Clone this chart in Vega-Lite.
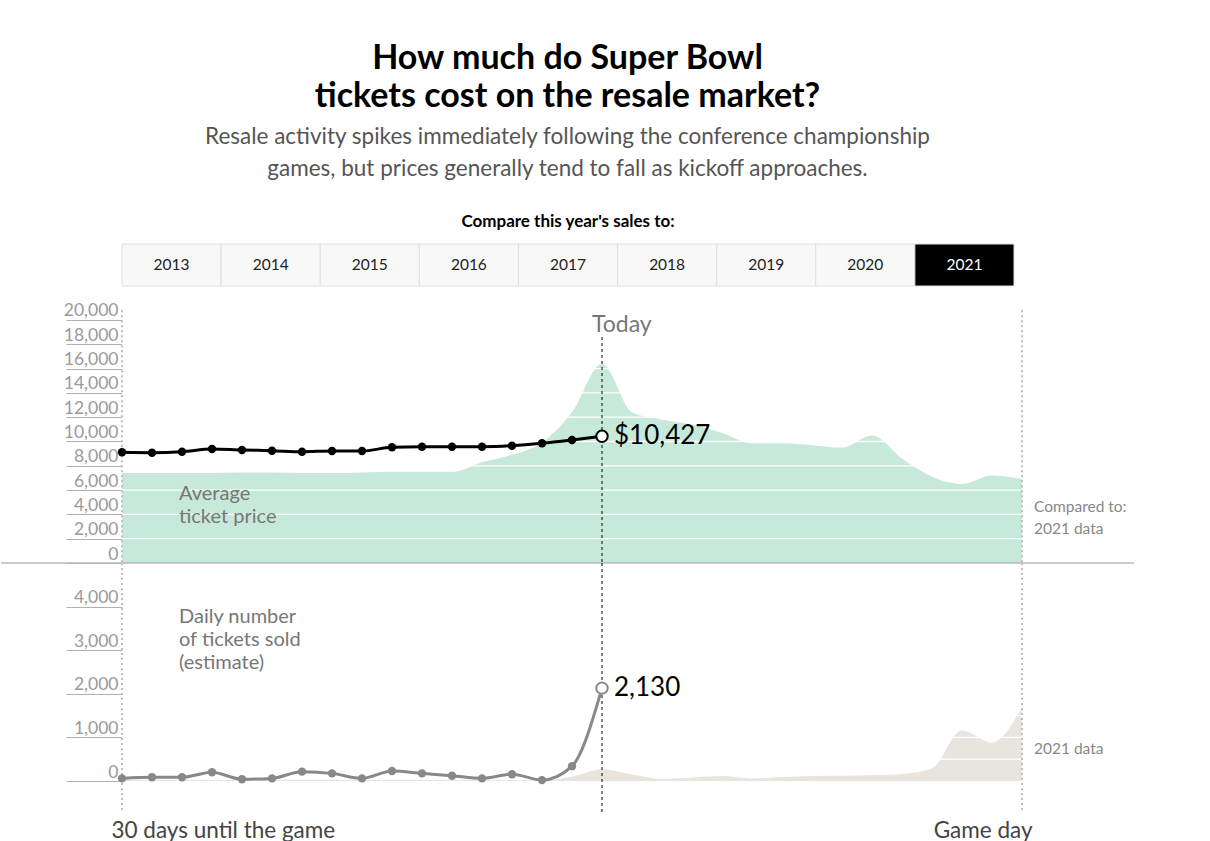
{
  "$schema": "https://vega.github.io/schema/vega-lite/v6.json",
  "padding": {"left": 0, "top": 42, "right": 0, "bottom": 0},
  "background": "white",
  "config": {
    "view": {"stroke": null},
    "font": "Lato",
    "axisY": {
      "domain": false, "grid": false, "ticks": true, "tickSize": 56, "tickColor": "#b0b0b0", "tickWidth": 1,
      "labelPadding": -52, "labelBaseline": "bottom", "labelAlign": "right", "labelOverlap": false,
      "labelFont": "Lato", "labelFontSize": 17.5, "labelColor": "#9a9a9a"
    }
  },
  "bounds": "flush",
  "spacing": 0,
  "title": {
    "text": ["How much do Super Bowl", "tickets cost on the resale market?"],
    "subtitle": ["Resale activity spikes immediately following the conference championship", "games, but prices generally tend to fall as kickoff approaches."],
    "anchor": "middle",
    "frame": "bounds",
    "font": "Lato",
    "fontSize": 34,
    "fontWeight": "bold",
    "color": "#000000",
    "lineHeight": 38,
    "subtitleFont": "Lato",
    "subtitleFontSize": 22.5,
    "subtitleColor": "#555555",
    "subtitleLineHeight": 32,
    "subtitlePadding": 12,
    "offset": 32
  },
  "datasets": {
    "buttons": [
      {"year": "2013"}, {"year": "2014"}, {"year": "2015"}, {"year": "2016"}, {"year": "2017"},
      {"year": "2018"}, {"year": "2019"}, {"year": "2020"}, {"year": "2021"}
    ],
    "current": [
      {"day": 30, "price": 9111, "tickets": 60},
      {"day": 29, "price": 9078, "tickets": 85},
      {"day": 28, "price": 9160, "tickets": 85},
      {"day": 27, "price": 9383, "tickets": 200},
      {"day": 26, "price": 9300, "tickets": 40},
      {"day": 25, "price": 9243, "tickets": 60},
      {"day": 24, "price": 9160, "tickets": 215},
      {"day": 23, "price": 9218, "tickets": 175},
      {"day": 22, "price": 9218, "tickets": 60},
      {"day": 21, "price": 9523, "tickets": 230},
      {"day": 20, "price": 9572, "tickets": 175},
      {"day": 19, "price": 9572, "tickets": 120},
      {"day": 18, "price": 9572, "tickets": 60},
      {"day": 17, "price": 9654, "tickets": 155},
      {"day": 16, "price": 9852, "tickets": 20},
      {"day": 15, "price": 10123, "tickets": 340},
      {"day": 14, "price": 10427, "tickets": 2130}
    ],
    "compare": [
      {"day": 30, "price": 7400, "tickets": 30},
      {"day": 29, "price": 7400, "tickets": 30},
      {"day": 28, "price": 7400, "tickets": 30},
      {"day": 27, "price": 7400, "tickets": 30},
      {"day": 26, "price": 7450, "tickets": 30},
      {"day": 25, "price": 7450, "tickets": 30},
      {"day": 24, "price": 7400, "tickets": 30},
      {"day": 23, "price": 7400, "tickets": 30},
      {"day": 22, "price": 7450, "tickets": 30},
      {"day": 21, "price": 7500, "tickets": 30},
      {"day": 20, "price": 7500, "tickets": 30},
      {"day": 19, "price": 7500, "tickets": 30},
      {"day": 18, "price": 8300, "tickets": 25},
      {"day": 17, "price": 8900, "tickets": 20},
      {"day": 16, "price": 9900, "tickets": 20},
      {"day": 15, "price": 12400, "tickets": 100},
      {"day": 14, "price": 16400, "tickets": 270},
      {"day": 13, "price": 12400, "tickets": 150},
      {"day": 12, "price": 11800, "tickets": 50},
      {"day": 11, "price": 11400, "tickets": 80},
      {"day": 10, "price": 10700, "tickets": 115},
      {"day": 9, "price": 9850, "tickets": 60},
      {"day": 8, "price": 9850, "tickets": 90},
      {"day": 7, "price": 9700, "tickets": 115},
      {"day": 6, "price": 9500, "tickets": 120},
      {"day": 5, "price": 10500, "tickets": 135},
      {"day": 4, "price": 8600, "tickets": 160},
      {"day": 3, "price": 7100, "tickets": 290},
      {"day": 2, "price": 6500, "tickets": 1160},
      {"day": 1, "price": 7200, "tickets": 880},
      {"day": 0, "price": 6900, "tickets": 1700}
    ],
    "priceGrid": [
      {"price": 2000}, {"price": 4000}, {"price": 6000}, {"price": 8000}, {"price": 10000},
      {"price": 12000}, {"price": 14000}, {"price": 16000}, {"price": 18000}, {"price": 20000}
    ],
    "ticketGrid": [
      {"tickets": 500}, {"tickets": 1000}, {"tickets": 1500}, {"tickets": 2000}, {"tickets": 2500},
      {"tickets": 3000}, {"tickets": 3500}, {"tickets": 4000}, {"tickets": 4500}
    ],
    "edges": [{"day": 30}, {"day": 0}],
    "one": [{"k": 1}]
  },
  "vconcat": [
    {
      "width": 892,
      "height": 42,
      "title": {"text": "Compare this year's sales to:", "font": "Lato", "fontSize": 17, "fontWeight": "bold", "color": "#000000", "anchor": "middle", "offset": 13},
      "data": {"name": "buttons"},
      "layer": [
        {
          "mark": {"type": "rect", "stroke": "#e0e0e0", "strokeWidth": 1},
          "encoding": {
            "x": {"field": "year", "type": "nominal", "axis": null, "scale": {"paddingInner": 0, "paddingOuter": 0}},
            "fill": {"condition": {"test": "datum.year == '2021'", "value": "#000000"}, "value": "#f8f8f8"}
          }
        },
        {
          "mark": {"type": "text", "font": "Lato", "fontSize": 15.5},
          "encoding": {
            "x": {"field": "year", "type": "nominal", "axis": null},
            "text": {"field": "year"},
            "color": {"condition": {"test": "datum.year == '2021'", "value": "#ffffff"}, "value": "#222222"}
          }
        }
      ]
    },
    {
      "width": 900,
      "height": 277,
      "layer": [
        {
          "data": {"name": "compare"},
          "mark": {"type": "area", "color": "#c6e9da", "interpolate": "monotone"},
          "encoding": {
            "x": {"field": "day", "type": "quantitative", "scale": {"domain": [0, 30], "reverse": true, "nice": false, "zero": false}, "axis": null},
            "y": {
              "field": "price", "type": "quantitative",
              "scale": {"domain": [0, 22798], "nice": false, "zero": false},
              "axis": {"values": [0, 2000, 4000, 6000, 8000, 10000, 12000, 14000, 16000, 18000, 20000], "format": ",.0f", "title": null}
            }
          }
        },
        {
          "data": {"name": "priceGrid"},
          "mark": {"type": "rule", "color": "#ffffff", "strokeWidth": 1.3},
          "encoding": {"y": {"field": "price", "type": "quantitative", "axis": {"values": [0, 2000, 4000, 6000, 8000, 10000, 12000, 14000, 16000, 18000, 20000], "format": ",.0f", "title": null}}}
        },
        {
          "data": {"name": "edges"},
          "mark": {"type": "rule", "color": "#bdbdbd", "strokeWidth": 2, "strokeDash": [2, 3]},
          "encoding": {"x": {"field": "day", "type": "quantitative"}, "y": {"datum": 20800, "axis": {"values": [0, 2000, 4000, 6000, 8000, 10000, 12000, 14000, 16000, 18000, 20000], "format": ",.0f", "title": null}}, "y2": {"datum": 0}}
        },
        {
          "data": {"name": "one"},
          "mark": {"type": "rule", "color": "#b8b8b8", "strokeWidth": 1.5},
          "encoding": {"x": {"datum": 34.03}, "x2": {"datum": -3.73}, "y": {"datum": 0, "axis": {"values": [0, 2000, 4000, 6000, 8000, 10000, 12000, 14000, 16000, 18000, 20000], "format": ",.0f", "title": null}}}
        },
        {
          "data": {"name": "one"},
          "mark": {"type": "rule", "color": "#000000", "strokeWidth": 1, "strokeDash": [3, 3]},
          "encoding": {"x": {"datum": 14}, "y": {"datum": 18600, "axis": {"values": [0, 2000, 4000, 6000, 8000, 10000, 12000, 14000, 16000, 18000, 20000], "format": ",.0f", "title": null}}, "y2": {"datum": 0}}
        },
        {
          "data": {"name": "one"},
          "mark": {"type": "text", "font": "Lato", "fontSize": 23, "color": "#777777", "align": "left", "baseline": "middle", "dx": -10},
          "encoding": {"x": {"datum": 14}, "y": {"datum": 19590, "axis": {"values": [0, 2000, 4000, 6000, 8000, 10000, 12000, 14000, 16000, 18000, 20000], "format": ",.0f", "title": null}}, "text": {"value": "Today"}}
        },
        {
          "data": {"name": "one"},
          "mark": {"type": "text", "font": "Lato", "fontSize": 20, "color": "#777777", "align": "left", "baseline": "middle", "lineHeight": 23},
          "encoding": {"x": {"datum": 28.1}, "y": {"datum": 5679, "axis": {"values": [0, 2000, 4000, 6000, 8000, 10000, 12000, 14000, 16000, 18000, 20000], "format": ",.0f", "title": null}}, "text": {"value": ["Average", "ticket price"]}}
        },
        {
          "data": {"name": "one"},
          "mark": {"type": "text", "font": "Lato", "fontSize": 15.5, "color": "#888888", "align": "left", "baseline": "middle", "lineHeight": 22},
          "encoding": {"x": {"datum": -0.4}, "y": {"datum": 4609, "axis": {"values": [0, 2000, 4000, 6000, 8000, 10000, 12000, 14000, 16000, 18000, 20000], "format": ",.0f", "title": null}}, "text": {"value": ["Compared to:", "2021 data"]}}
        },
        {
          "data": {"name": "current"},
          "mark": {"type": "line", "color": "#000000", "strokeWidth": 3, "interpolate": "monotone"},
          "encoding": {"x": {"field": "day", "type": "quantitative"}, "y": {"field": "price", "type": "quantitative", "axis": {"values": [0, 2000, 4000, 6000, 8000, 10000, 12000, 14000, 16000, 18000, 20000], "format": ",.0f", "title": null}}}
        },
        {
          "data": {"name": "current"},
          "transform": [{"filter": "datum.day > 14"}],
          "mark": {"type": "point", "filled": true, "color": "#000000", "size": 70, "opacity": 1},
          "encoding": {"x": {"field": "day", "type": "quantitative"}, "y": {"field": "price", "type": "quantitative", "axis": {"values": [0, 2000, 4000, 6000, 8000, 10000, 12000, 14000, 16000, 18000, 20000], "format": ",.0f", "title": null}}}
        },
        {
          "data": {"name": "current"},
          "transform": [{"filter": "datum.day == 14"}],
          "mark": {"type": "point", "filled": true, "fill": "#ffffff", "stroke": "#000000", "strokeWidth": 2, "size": 130, "opacity": 1},
          "encoding": {"x": {"field": "day", "type": "quantitative"}, "y": {"field": "price", "type": "quantitative", "axis": {"values": [0, 2000, 4000, 6000, 8000, 10000, 12000, 14000, 16000, 18000, 20000], "format": ",.0f", "title": null}}}
        },
        {
          "data": {"name": "current"},
          "transform": [{"filter": "datum.day == 14"}],
          "mark": {"type": "text", "font": "Lato", "fontSize": 26, "color": "#000000", "align": "left", "baseline": "middle", "dx": 12},
          "encoding": {"x": {"field": "day", "type": "quantitative"}, "y": {"field": "price", "type": "quantitative", "axis": {"values": [0, 2000, 4000, 6000, 8000, 10000, 12000, 14000, 16000, 18000, 20000], "format": ",.0f", "title": null}}, "text": {"field": "price", "type": "quantitative", "format": "$,.0f"}}
        }
      ]
    },
    {
      "width": 900,
      "height": 249,
      "layer": [
        {
          "data": {"name": "compare"},
          "mark": {"type": "area", "color": "#e8e5df", "interpolate": "monotone"},
          "encoding": {
            "x": {
              "field": "day", "type": "quantitative",
              "scale": {"domain": [0, 30], "reverse": true, "nice": false, "zero": false},
              "axis": {
                "orient": "bottom", "values": [30, 0], "title": null, "domain": false, "ticks": false, "grid": false,
                "labelExpr": "datum.value == 30 ? '30 days until the game' : 'Game day'",
                "labelAlign": {"condition": {"test": "datum.value == 30", "value": "left"}, "value": "right"},
                "labelOffset": {"condition": {"test": "datum.value == 30", "value": -11}, "value": 10},
                "labelPadding": 7, "labelFont": "Lato", "labelFontSize": 22.5, "labelColor": "#444444",
                "labelFlush": false, "labelOverlap": false, "labelBound": false, "labelLimit": 0
              }
            },
            "y": {
              "field": "tickets", "type": "quantitative",
              "scale": {"domain": [-711, 5000], "nice": false, "zero": false},
              "axis": {"values": [0, 1000, 2000, 3000, 4000], "format": ",.0f", "title": null}
            }
          }
        },
        {
          "data": {"name": "ticketGrid"},
          "mark": {"type": "rule", "color": "#ffffff", "strokeWidth": 1.3},
          "encoding": {"y": {"field": "tickets", "type": "quantitative", "axis": {"values": [0, 1000, 2000, 3000, 4000], "format": ",.0f", "title": null}}}
        },
        {
          "data": {"name": "edges"},
          "mark": {"type": "rule", "color": "#bdbdbd", "strokeWidth": 2, "strokeDash": [2, 3]},
          "encoding": {"x": {"field": "day", "type": "quantitative"}, "y": {"datum": 5000, "axis": {"values": [0, 1000, 2000, 3000, 4000], "format": ",.0f", "title": null}}, "y2": {"datum": -711}}
        },
        {
          "data": {"name": "one"},
          "mark": {"type": "rule", "color": "#000000", "strokeWidth": 1, "strokeDash": [3, 3]},
          "encoding": {"x": {"datum": 14}, "y": {"datum": 5000, "axis": {"values": [0, 1000, 2000, 3000, 4000], "format": ",.0f", "title": null}}, "y2": {"datum": -711}}
        },
        {
          "data": {"name": "one"},
          "mark": {"type": "text", "font": "Lato", "fontSize": 20, "color": "#777777", "align": "left", "baseline": "middle", "lineHeight": 23},
          "encoding": {"x": {"datum": 28.1}, "y": {"datum": 3761, "axis": {"values": [0, 1000, 2000, 3000, 4000], "format": ",.0f", "title": null}}, "text": {"value": ["Daily number", "of tickets sold", "(estimate)"]}}
        },
        {
          "data": {"name": "one"},
          "mark": {"type": "text", "font": "Lato", "fontSize": 15.5, "color": "#888888", "align": "left", "baseline": "middle"},
          "encoding": {"x": {"datum": -0.4}, "y": {"datum": 734, "axis": {"values": [0, 1000, 2000, 3000, 4000], "format": ",.0f", "title": null}}, "text": {"value": "2021 data"}}
        },
        {
          "data": {"name": "current"},
          "mark": {"type": "line", "color": "#888888", "strokeWidth": 3, "interpolate": "monotone"},
          "encoding": {"x": {"field": "day", "type": "quantitative"}, "y": {"field": "tickets", "type": "quantitative", "axis": {"values": [0, 1000, 2000, 3000, 4000], "format": ",.0f", "title": null}}}
        },
        {
          "data": {"name": "current"},
          "transform": [{"filter": "datum.day > 14"}],
          "mark": {"type": "point", "filled": true, "color": "#888888", "size": 70, "opacity": 1},
          "encoding": {"x": {"field": "day", "type": "quantitative"}, "y": {"field": "tickets", "type": "quantitative", "axis": {"values": [0, 1000, 2000, 3000, 4000], "format": ",.0f", "title": null}}}
        },
        {
          "data": {"name": "current"},
          "transform": [{"filter": "datum.day == 14"}],
          "mark": {"type": "point", "filled": true, "fill": "#ffffff", "stroke": "#888888", "strokeWidth": 2, "size": 130, "opacity": 1},
          "encoding": {"x": {"field": "day", "type": "quantitative"}, "y": {"field": "tickets", "type": "quantitative", "axis": {"values": [0, 1000, 2000, 3000, 4000], "format": ",.0f", "title": null}}}
        },
        {
          "data": {"name": "current"},
          "transform": [{"filter": "datum.day == 14"}],
          "mark": {"type": "text", "font": "Lato", "fontSize": 26, "color": "#000000", "align": "left", "baseline": "middle", "dx": 12},
          "encoding": {"x": {"field": "day", "type": "quantitative"}, "y": {"field": "tickets", "type": "quantitative", "axis": {"values": [0, 1000, 2000, 3000, 4000], "format": ",.0f", "title": null}}, "text": {"field": "tickets", "type": "quantitative", "format": ","}}
        }
      ]
    }
  ]
}
